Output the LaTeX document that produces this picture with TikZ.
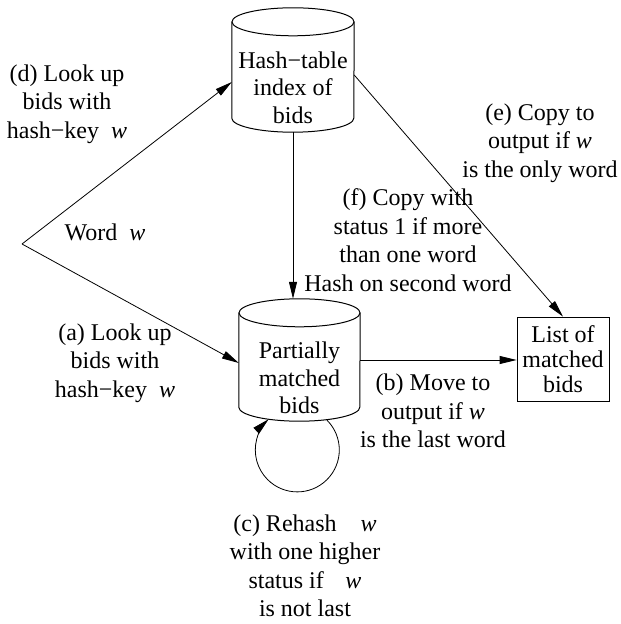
\documentclass[tikz,border=0pt]{standalone}
\usepackage{fontspec}
\setmainfont{Liberation Serif}
\usetikzlibrary{arrows.meta,calc}
\tikzset{
  arr/.style={line width=0.8pt, -{Triangle[length=17pt,width=8pt]}},
  cyl/.style={line width=1pt},
  txt/.style={align=center, font=\fontsize{24}{28.5}\selectfont, inner sep=0pt},
  cyltxt/.style={align=center, font=\fontsize{24}{27.5}\selectfont, inner sep=0pt},
  shell/.style={draw=none, inner sep=0pt},
}
\begin{document}
\begin{tikzpicture}[x=1pt,y=1pt]
\useasboundingbox (0,0) rectangle (621,624);

% Hash-table cylinder
\node[shell, minimum width=122pt, minimum height=124pt,
  label={[cyltxt, yshift=-17.5pt]center:{Hash−table\\index of\\bids}}] (hash) at (293,554) {};
\draw[cyl] ([yshift=-14pt]hash.north west) -- ([yshift=14pt]hash.south west)
  arc[start angle=180,end angle=360,x radius=61pt,y radius=14pt]
  -- ([yshift=-14pt]hash.north east);
\draw[cyl] ([yshift=-14pt]hash.north) ellipse[x radius=61pt, y radius=14pt];

% Partially matched cylinder
\node[shell, minimum width=121pt, minimum height=122pt,
  label={[cyltxt, yshift=-18pt]center:{Partially\\matched\\bids}}] (part) at (299.5,264) {};
\draw[cyl] ([yshift=-14pt]part.north west) -- ([yshift=14pt]part.south west)
  arc[start angle=180,end angle=360,x radius=60.5pt,y radius=14pt]
  -- ([yshift=-14pt]part.north east);
\draw[cyl] ([yshift=-14pt]part.north) ellipse[x radius=60.5pt, y radius=14pt];

% List box
\node[draw, line width=0.8pt, minimum width=92pt, minimum height=84pt, align=center,
  font=\fontsize{24}{25}\selectfont, inner sep=0pt] (list) at (563,265) {List of\\matched\\bids};

% vertex of the word input
\coordinate (W) at (22,380);

% labels
\node[txt] (lblW) at (105,392) {Word\ \ \textit{w}};
\node[txt] (lbld) at (67,520) {(d) Look up\\bids with\\hash−key\ \ \textit{w}};
\node[txt] (lbla) at (115,261) {(a) Look up\\bids with\\hash−key\ \ \textit{w}};
\node[txt] (lblf) at (408,384) {(f) Copy with\\status 1 if more\\than one word\\Hash on second word};
\node[txt] (lble) at (540,481) {(e) Copy to\\output if \textit{w}\\is the only word};
\node[txt] (lblb) at (433,213) {(b) Move to\\output if \textit{w}\\is the last word};
\node[txt] (lblc) at (305,58) {(c) Rehash\hspace{1em}\textit{w}\\with one higher\\status if\hspace{0.9em}\textit{w}\\is not last};

% connectors
\draw[arr] (W) -- ([yshift=-12pt]hash.west);
\draw[arr] (W) -- ([yshift=-3pt]part.west);
\draw[arr] (hash.south) -- (hash.south |- part.north);
\draw[arr] ([yshift=-5pt]hash.east) -- (list.north);
\draw[arr] (part.east) -- (part.east -| list.west);
\draw[arr] ([xshift=27.5pt,yshift=1pt]part.south) arc[start angle=45,end angle=-227,radius=42pt];
\end{tikzpicture}
\end{document}
